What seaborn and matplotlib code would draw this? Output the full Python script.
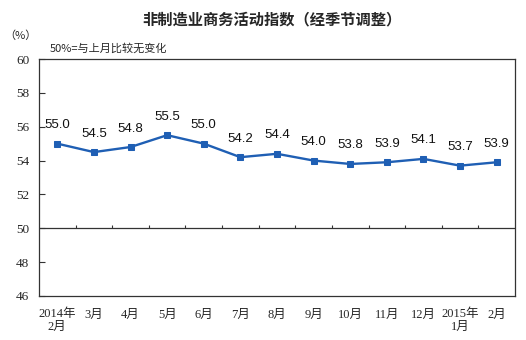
import matplotlib
matplotlib.use("Agg")
import matplotlib.pyplot as plt
import seaborn as sns
import pandas as pd
import numpy as np

months = ["2014年\n2月", "3月", "4月", "5月", "6月", "7月", "8月", "9月",
          "10月", "11月", "12月", "2015年\n1月", "2月"]
values = [55.0, 54.5, 54.8, 55.5, 55.0, 54.2, 54.4, 54.0, 53.8, 53.9, 54.1, 53.7, 53.9]
yticks = [46, 48, 50, 52, 54, 56, 58, 60]

sns.set_style("white")
plt.rcParams['font.family'] = ['Liberation Serif', 'Noto Sans CJK SC', 'DejaVu Sans']

df = pd.DataFrame({"idx": np.arange(len(values)), "value": values})

fig = plt.figure(figsize=(5.26, 3.40), dpi=100)
ax = fig.add_axes([39/526, 1-296/340, (515-39)/526, (296-59)/340])

line_color = "#1F5FB4"
sns.lineplot(data=df, x="idx", y="value", ax=ax, color=line_color, linewidth=1.7,
             marker="s", markersize=5, markeredgecolor=line_color, markerfacecolor=line_color)

ax.set_xlim(-0.5, len(values) - 0.5)
ax.set_ylim(46, 60)
ax.set_yticks(yticks)
ax.set_yticklabels([str(v) for v in yticks], fontsize=9.5, family=['Liberation Serif'])
ax.set_xticks(df["idx"])
ax.set_xticklabels(months, fontsize=9, family=['Liberation Serif', 'Noto Sans CJK SC'], linespacing=1.1)
ax.tick_params(axis='x', length=0, pad=9)
ax.tick_params(axis='y', direction='in', length=4, width=0.8, color='#333333', pad=7, left=True)
ax.set_xlabel("")
ax.set_ylabel("")

for s in ax.spines.values():
    s.set_color("#333333")
    s.set_linewidth(0.9)

# horizontal axis at 50 with category boundary ticks
ax.axhline(50, color="#333333", linewidth=0.9)
edges = np.arange(len(values) + 1) - 0.5
ax.vlines(edges[1:-1], 50, 50.2, color="#333333", linewidth=0.8)

for i, v in zip(df["idx"], values):
    ax.annotate(f"{v:.1f}", (i, v), xytext=(0, 9), textcoords="offset points",
                ha="center", va="bottom", fontsize=9.5, family=['Liberation Sans'], color="#111111")

fig.text(272/526, 1-19/340, "非制造业商务活动指数（经季节调整）", ha="center", va="center",
         fontsize=11, fontweight="bold", family=['Noto Sans CJK SC'])
fig.text(20/526, 1-36/340, "（%）", ha="center", va="center", fontsize=8, family=['Noto Sans CJK SC'])
fig.text(50/526, 1-48/340, "50%=与上月比较无变化", ha="left", va="center", fontsize=8,
         family=['Noto Sans CJK SC'])

fig.savefig("out.png", dpi=100)
